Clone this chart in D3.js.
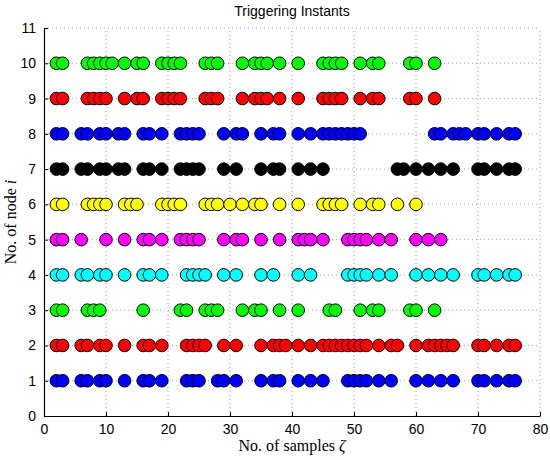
<!DOCTYPE html>
<html>
<head>
<meta charset="utf-8">
<script src="https://cdn.jsdelivr.net/npm/d3@7"></script>
<style>
  body { margin: 0; background: white; }
</style>
</head>
<body>
<div id="main_content"></div>
<script>
var width = 550, height = 460;
var margin = {top: 28, right: 10, bottom: 44, left: 44};

// sample instants at which each node triggered
var node1 = [2,3,6,7,9,10,13,16,17,19,23,24,25,28,29,31,35,37,38,41,43,45,49,50,51,52,54,56,60,62,64,66,70,71,73,75,76];
var node2 = [2,3,6,7,9,10,13,16,17,19,23,24,25,26,29,31,35,37,38,39,41,43,45,46,47,48,49,50,51,52,54,56,57,60,62,63,64,65,66,70,71,73,75,76];
var node3 = [2,3,7,8,9,16,22,23,26,27,28,32,34,35,38,41,46,47,51,53,54,59,60,63];
var node4 = [2,3,6,7,9,10,13,16,17,19,23,24,25,26,29,31,35,37,41,43,49,50,51,52,54,56,60,62,64,66,70,71,73,75,76];
var node5 = [2,3,6,10,13,16,17,19,22,23,24,25,29,31,32,35,38,41,42,43,45,49,50,51,52,54,56,60,62,64];
var node6 = [2,3,7,8,9,10,13,14,15,19,20,21,22,26,27,28,30,32,34,35,38,41,45,46,47,48,51,53,54,57,60];
var node7 = [2,3,6,7,9,10,12,13,16,17,19,22,23,24,25,29,31,35,37,38,41,43,45,57,58,60,62,64,66,70,71,73,75,76];
var node8 = [2,3,6,7,9,10,12,13,16,17,19,22,23,24,25,29,31,32,35,37,38,41,43,45,46,47,48,49,50,51,63,64,66,67,68,70,71,73,75,76];
var node9 = [2,3,7,8,9,10,13,15,16,19,20,21,22,26,27,28,32,34,35,36,38,41,45,46,47,48,51,53,54,59,60,63];
var node10 = [2,3,7,8,9,10,11,13,15,16,19,20,21,22,26,27,28,32,34,35,36,38,41,45,46,47,48,51,53,54,59,60,63];

var nodes = [node1, node2, node3, node4, node5, node6, node7, node8, node9, node10];
var colors = ['#0000ff','#ff0000','#00ff00','#00ffff','#ff00ff','#ffff00','#000000','#0000ff','#ff0000','#00ff00'];
var xTicks = [0,10,20,30,40,50,60,70,80];
var yTicks = [0,1,2,3,4,5,6,7,8,9,10,11];

var svg = d3.select('#main_content').append('svg')
  .attr('width', width)
  .attr('height', height)
  .style('background', 'white');

var x = d3.scaleLinear().domain([0, 80]).range([margin.left, width - margin.right]);
var y = d3.scaleLinear().domain([0, 11]).range([height - margin.bottom, margin.top]);

// dotted grid
svg.append('g').selectAll('line.gx')
  .data(xTicks.slice(1))
  .enter().append('line')
  .attr('x1', function(d) { return x(d); })
  .attr('x2', function(d) { return x(d); })
  .attr('y1', y(0))
  .attr('y2', y(11))
  .attr('stroke', '#888')
  .attr('stroke-width', 0.8)
  .attr('stroke-dasharray', '1,3');

svg.append('g').selectAll('line.gy')
  .data(yTicks.slice(1))
  .enter().append('line')
  .attr('x1', x(0))
  .attr('x2', x(80))
  .attr('y1', function(d) { return y(d); })
  .attr('y2', function(d) { return y(d); })
  .attr('stroke', '#888')
  .attr('stroke-width', 0.8)
  .attr('stroke-dasharray', '1,3');

// axes, ticks pointing inward like matlab
var xAxis = svg.append('g')
  .attr('transform', 'translate(0,' + y(0) + ')')
  .call(d3.axisBottom(x).tickValues(xTicks).tickSizeInner(-4).tickSizeOuter(0).tickPadding(8));
var yAxis = svg.append('g')
  .attr('transform', 'translate(' + x(0) + ',0)')
  .call(d3.axisLeft(y).tickValues(yTicks).tickSizeInner(-4).tickSizeOuter(0).tickPadding(8));

[xAxis, yAxis].forEach(function(a) {
  a.select('.domain').attr('stroke', '#000').attr('stroke-width', 1.2);
  a.selectAll('.tick line').attr('stroke', '#000');
  a.selectAll('.tick text')
    .attr('fill', '#000')
    .style('font-family', 'Liberation Sans, Arial, sans-serif')
    .style('font-size', '14px');
});

// markers, one row per node
nodes.forEach(function(samples, i) {
  svg.append('g').selectAll('circle')
    .data(samples)
    .enter().append('circle')
    .attr('cx', function(d) { return x(d); })
    .attr('cy', y(i + 1))
    .attr('r', 6.3)
    .attr('fill', colors[i])
    .attr('stroke', '#000')
    .attr('stroke-width', 1);
});

svg.append('text')
  .attr('x', (x(0) + x(80)) / 2)
  .attr('y', 16)
  .attr('text-anchor', 'middle')
  .style('font-family', 'Liberation Sans, Arial, sans-serif')
  .style('font-size', '14px')
  .text('Triggering Instants');

var xl = svg.append('text')
  .attr('x', (x(0) + x(80)) / 2)
  .attr('y', 451)
  .attr('text-anchor', 'middle')
  .style('font-family', 'Liberation Serif, Times New Roman, serif')
  .style('font-size', '16px');
xl.append('tspan').text('No.  of samples ');
xl.append('tspan').style('font-style', 'italic').text('ζ');

var yl = svg.append('text')
  .attr('transform', 'translate(16,' + (y(0) + y(11)) / 2 + ') rotate(-90)')
  .attr('text-anchor', 'middle')
  .style('font-family', 'Liberation Serif, Times New Roman, serif')
  .style('font-size', '16px');
yl.append('tspan').text('No.  of node ');
yl.append('tspan').style('font-style', 'italic').text('i');
</script>
</body>
</html>
